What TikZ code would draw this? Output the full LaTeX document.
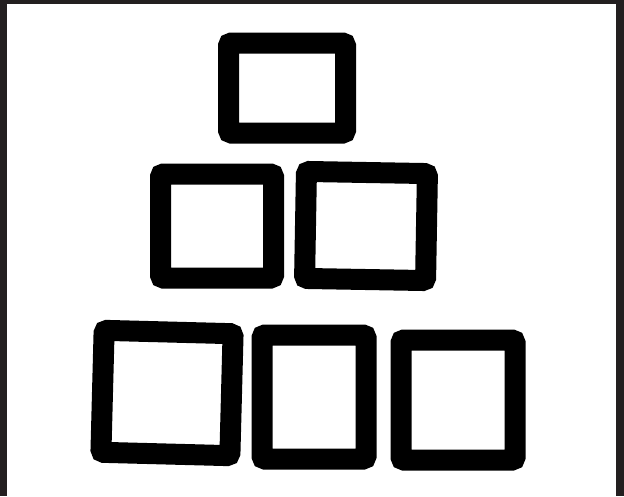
\documentclass[tikz,border=0pt]{standalone}
\usepackage{tikz}
\usetikzlibrary{positioning}
\definecolor{frameink}{HTML}{231F20}

\begin{document}
\begin{tikzpicture}[x=1pt,y=-1pt,
  brick/.style={draw=black,line width=21pt,rounded corners=3pt,inner sep=0pt,outer sep=0pt}]
\useasboundingbox (0,0) rectangle (624,496);
% dark frame on three sides
\fill[frameink] (0,0) rectangle (624,4);
\fill[frameink] (0,0) rectangle (7,496);
\fill[frameink] (616,0) rectangle (624,496);
% top row
\node (top) [brick,minimum width=117pt,minimum height=90pt] at (287,88) {};
% middle row
\node (midL) [brick,minimum width=113pt,minimum height=104pt] at (217,226) {};
\node (midR) [brick,minimum width=121pt,minimum height=107pt,rotate=-1] at (366,226) {};
% bottom row
\node (lowL) [brick,minimum width=129pt,minimum height=122pt,rotate=-1.5] at (167,393) {};
\node (lowM) [brick,minimum width=104pt,minimum height=124pt] at (314,397) {};
\node (lowR) [brick,minimum width=114pt,minimum height=120pt] at (458,400) {};
\end{tikzpicture}
\end{document}
